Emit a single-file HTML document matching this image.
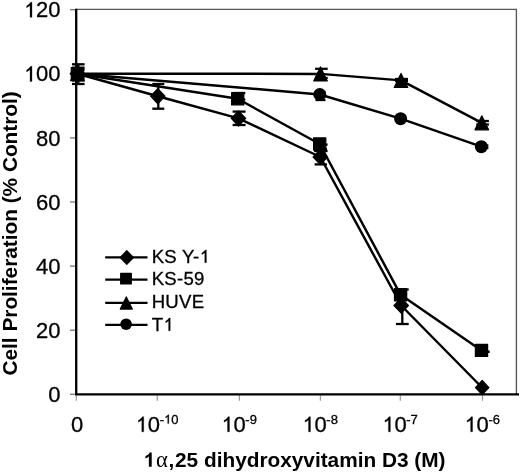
<!DOCTYPE html>
<html><head><meta charset="utf-8"><style>
html,body{margin:0;padding:0;background:#fff;}
body{width:520px;height:472px;overflow:hidden;}
svg{display:block;will-change:transform;}
text{font-family:"Liberation Sans",sans-serif;fill:#000;}
.tl{font-size:22px;stroke:#000;stroke-width:0.3px;}
.sup{font-size:13px;}
.lt{font-size:18.6px;letter-spacing:0.25px;stroke:#000;stroke-width:0.3px;}
.ti{font-size:20.8px;font-weight:bold;}
.one{fill-opacity:0;stroke:none;}
.al{font-family:"Liberation Serif",serif;font-weight:normal;font-size:22.5px;}
</style></head><body>
<svg width="520" height="472" viewBox="0 0 520 472">
<path d="M76 9.3H516.4V394" fill="none" stroke="#555" stroke-width="1.35"/>
<g stroke="#777" stroke-width="1.3"><line x1="70" y1="394.3" x2="76" y2="394.3"/><line x1="70" y1="330.2" x2="76" y2="330.2"/><line x1="70" y1="266.1" x2="76" y2="266.1"/><line x1="70" y1="202.0" x2="76" y2="202.0"/><line x1="70" y1="137.9" x2="76" y2="137.9"/><line x1="70" y1="73.8" x2="76" y2="73.8"/><line x1="70" y1="9.7" x2="76" y2="9.7"/><line x1="76.3" y1="395" x2="76.3" y2="400.8" stroke="#999" stroke-width="1.2"/><line x1="157.3" y1="395" x2="157.3" y2="400.8" stroke="#999" stroke-width="1.2"/><line x1="239.4" y1="395" x2="239.4" y2="400.8" stroke="#999" stroke-width="1.2"/><line x1="320.4" y1="395" x2="320.4" y2="400.8" stroke="#999" stroke-width="1.2"/><line x1="400.3" y1="395" x2="400.3" y2="400.8" stroke="#999" stroke-width="1.2"/><line x1="482.5" y1="395" x2="482.5" y2="400.8" stroke="#999" stroke-width="1.2"/></g>
<path d="M76.2 8.8V394.3H519" fill="none" stroke="#000" stroke-width="2.3"/>
<g stroke="#000" stroke-width="2.3"><line x1="78.3" y1="64.3" x2="78.3" y2="84.0"/><line x1="72.0" y1="64.3" x2="84.6" y2="64.3"/><line x1="72.0" y1="84.0" x2="84.6" y2="84.0"/><line x1="78.3" y1="67.7" x2="78.3" y2="80.4"/><line x1="72.0" y1="67.7" x2="84.6" y2="67.7"/><line x1="72.0" y1="80.4" x2="84.6" y2="80.4"/><line x1="78.3" y1="69.8" x2="78.3" y2="78.0"/><line x1="72.0" y1="69.8" x2="84.6" y2="69.8"/><line x1="72.0" y1="78.0" x2="84.6" y2="78.0"/><line x1="158.3" y1="84.0" x2="158.3" y2="108.7"/><line x1="152.3" y1="84.0" x2="164.3" y2="84.0"/><line x1="152.3" y1="108.7" x2="164.3" y2="108.7"/><line x1="239.1" y1="111.6" x2="239.1" y2="125.0"/><line x1="232.6" y1="111.6" x2="245.6" y2="111.6"/><line x1="232.6" y1="125.0" x2="245.6" y2="125.0"/><line x1="239.1" y1="93.0" x2="239.1" y2="99.6"/><line x1="232.9" y1="93.0" x2="245.3" y2="93.0"/><line x1="232.9" y1="99.6" x2="245.3" y2="99.6"/><line x1="321.4" y1="68.8" x2="321.4" y2="78.0"/><line x1="315.1" y1="68.8" x2="327.7" y2="68.8"/><line x1="315.1" y1="78.0" x2="327.7" y2="78.0"/><line x1="320.5" y1="92.0" x2="320.5" y2="100.0"/><line x1="315.5" y1="92.0" x2="325.5" y2="92.0"/><line x1="315.5" y1="100.0" x2="325.5" y2="100.0"/><line x1="320.8" y1="144.6" x2="320.8" y2="151.0"/><line x1="314.1" y1="144.6" x2="327.6" y2="144.6"/><line x1="314.1" y1="151.0" x2="327.6" y2="151.0"/><line x1="320.8" y1="149.0" x2="320.8" y2="164.4"/><line x1="314.6" y1="149.0" x2="327.0" y2="149.0"/><line x1="314.6" y1="164.4" x2="327.0" y2="164.4"/><line x1="402.3" y1="289.5" x2="402.3" y2="324.0"/><line x1="395.9" y1="289.5" x2="408.7" y2="289.5"/><line x1="395.9" y1="324.0" x2="408.7" y2="324.0"/><line x1="401.5" y1="79.0" x2="401.5" y2="81.0"/><line x1="395.0" y1="79.0" x2="408.0" y2="79.0"/><line x1="395.0" y1="81.0" x2="408.0" y2="81.0"/><line x1="482.6" y1="121.0" x2="482.6" y2="124.5"/><line x1="476.3" y1="121.0" x2="488.9" y2="121.0"/><line x1="476.3" y1="124.5" x2="488.9" y2="124.5"/><line x1="482.2" y1="145.5" x2="482.2" y2="148.0"/><line x1="476.0" y1="145.5" x2="488.4" y2="145.5"/><line x1="476.0" y1="148.0" x2="488.4" y2="148.0"/><line x1="482.6" y1="351.8" x2="482.6" y2="351.8"/><line x1="475.8" y1="351.8" x2="489.4" y2="351.8"/><line x1="475.8" y1="351.8" x2="489.4" y2="351.8"/></g>
<polyline points="77.4,73.7 157.8,96.2 238.5,118.4 320.3,157.0 401.2,305.5 482.0,387.5" fill="none" stroke="#000" stroke-width="2.45" stroke-linejoin="round"/>
<polyline points="77.4,73.7 237.7,98.8 319.7,144.0 400.6,294.8 481.5,350.4" fill="none" stroke="#000" stroke-width="2.45" stroke-linejoin="round"/>
<polyline points="77.4,73.7 320.5,73.9 401.0,80.4 481.8,122.8" fill="none" stroke="#000" stroke-width="2.45" stroke-linejoin="round"/>
<polyline points="77.4,73.7 319.8,94.5 400.6,118.7 481.3,146.7" fill="none" stroke="#000" stroke-width="2.45" stroke-linejoin="round"/>
<g fill="#000"><path stroke="#000" stroke-width="1.2" stroke-linejoin="round" d="M77.4 66.1L84.6 73.7L77.4 81.3L70.2 73.7Z"/><path stroke="#000" stroke-width="1.2" stroke-linejoin="round" d="M157.8 88.6L165.0 96.2L157.8 103.8L150.6 96.2Z"/><path stroke="#000" stroke-width="1.2" stroke-linejoin="round" d="M238.5 110.8L245.7 118.4L238.5 126.0L231.3 118.4Z"/><path stroke="#000" stroke-width="1.2" stroke-linejoin="round" d="M320.3 149.4L327.5 157.0L320.3 164.6L313.1 157.0Z"/><path stroke="#000" stroke-width="1.2" stroke-linejoin="round" d="M401.2 297.9L408.4 305.5L401.2 313.1L394.0 305.5Z"/><path stroke="#000" stroke-width="1.2" stroke-linejoin="round" d="M482.2 380.5L488.9 387.6L482.2 394.7L475.5 387.6Z"/><rect stroke="#000" stroke-width="1.2" stroke-linejoin="round" x="71.3" y="67.6" width="12.2" height="12.2"/><rect stroke="#000" stroke-width="1.2" stroke-linejoin="round" x="231.6" y="92.7" width="12.2" height="12.2"/><rect stroke="#000" stroke-width="1.2" stroke-linejoin="round" x="313.6" y="137.9" width="12.2" height="12.2"/><rect stroke="#000" stroke-width="1.2" stroke-linejoin="round" x="394.5" y="288.7" width="12.2" height="12.2"/><rect stroke="#000" stroke-width="1.2" stroke-linejoin="round" x="475.4" y="344.3" width="12.2" height="12.2"/><path stroke="#000" stroke-width="1.2" stroke-linejoin="round" d="M77.4 66.7L84.2 80.7L70.6 80.7Z"/><path stroke="#000" stroke-width="1.2" stroke-linejoin="round" d="M320.5 66.9L327.3 80.9L313.7 80.9Z"/><path stroke="#000" stroke-width="1.2" stroke-linejoin="round" d="M401.0 73.4L407.8 87.4L394.2 87.4Z"/><path stroke="#000" stroke-width="1.2" stroke-linejoin="round" d="M481.8 115.8L488.6 129.8L475.0 129.8Z"/><circle cx="77.4" cy="73.7" r="6.5"/><circle cx="319.8" cy="94.5" r="6.5"/><circle cx="400.6" cy="118.7" r="6.5"/><circle cx="481.3" cy="146.7" r="6.5"/></g>
<g fill="#000"><line x1="105.2" y1="257.4" x2="147.5" y2="257.4" stroke="#000" stroke-width="2.3"/><path stroke="#000" stroke-width="1.2" stroke-linejoin="round" d="M126.8 250.7L133.4 257.5L126.8 264.3L120.2 257.5Z"/><text x="151.7" y="262.7" class="lt">KS Y-<tspan class="one">1</tspan></text><line x1="105.2" y1="279.6" x2="147.5" y2="279.6" stroke="#000" stroke-width="2.3"/><rect stroke="#000" stroke-width="1.2" stroke-linejoin="round" x="120.7" y="273.3" width="10.6" height="10.6"/><text x="151.7" y="284.9" class="lt">KS-59</text><line x1="105.2" y1="302.9" x2="147.5" y2="302.9" stroke="#000" stroke-width="2.3"/><path stroke="#000" stroke-width="1.2" stroke-linejoin="round" d="M126.3 296.9L132.3 309.1L120.3 309.1Z"/><text x="151.7" y="308.2" class="lt">HUVE</text><line x1="105.2" y1="324.8" x2="147.5" y2="324.8" stroke="#000" stroke-width="2.3"/><circle cx="126.1" cy="324.2" r="5.8"/><text x="151.7" y="330.8" class="lt">T<tspan class="one">1</tspan></text></g>
<text x="60.5" y="401.9" class="tl" text-anchor="end">0</text><text x="60.5" y="337.8" class="tl" text-anchor="end">20</text><text x="60.5" y="273.7" class="tl" text-anchor="end">40</text><text x="60.5" y="209.6" class="tl" text-anchor="end">60</text><text x="60.5" y="145.5" class="tl" text-anchor="end">80</text><text x="60.5" y="81.4" class="tl" text-anchor="end"><tspan class="one">1</tspan>00</text><text x="60.5" y="17.3" class="tl" text-anchor="end"><tspan class="one">1</tspan>20</text>
<text x="77" y="431.8" class="tl" text-anchor="middle">0</text><text x="157.0" y="431.8" class="tl" text-anchor="middle"><tspan class="one">1</tspan>0<tspan class="sup" dx="-0.4" dy="-8.2">-<tspan class="one">1</tspan>0</tspan></text><text x="239.1" y="431.8" class="tl" text-anchor="middle"><tspan class="one">1</tspan>0<tspan class="sup" dx="-0.4" dy="-8.2">-9</tspan></text><text x="320.1" y="431.8" class="tl" text-anchor="middle"><tspan class="one">1</tspan>0<tspan class="sup" dx="-0.4" dy="-8.2">-8</tspan></text><text x="400.0" y="431.8" class="tl" text-anchor="middle"><tspan class="one">1</tspan>0<tspan class="sup" dx="-0.4" dy="-8.2">-7</tspan></text><text x="482.2" y="431.8" class="tl" text-anchor="middle"><tspan class="one">1</tspan>0<tspan class="sup" dx="-0.4" dy="-8.2">-6</tspan></text>
<text x="144" y="466.8" class="ti"><tspan class="one">1</tspan><tspan class="al" dx="0.3">&#945;</tspan><tspan dx="0.8">,</tspan><tspan dx="0.8">25 dihydroxyvitamin D3 (M)</tspan></text>
<text transform="translate(16.8 375.5) rotate(-90)" class="ti">Cell Proliferation (% Control)</text>
<g fill="#000"><path transform="matrix(0.00908 0 0 -0.00908 199.48 262.70)" stroke="#000" stroke-width="33.0" d="M763 0L583 0L583 1100C535 1052 480 1012 415 975C355 940 305 915 262 900L262 1068C340 1105 415 1160 482 1222C550 1285 602 1350 635 1409L763 1409Z"/><path transform="matrix(0.00908 0 0 -0.00908 163.31 330.80)" stroke="#000" stroke-width="33.0" d="M763 0L583 0L583 1100C535 1052 480 1012 415 975C355 940 305 915 262 900L262 1068C340 1105 415 1160 482 1222C550 1285 602 1350 635 1409L763 1409Z"/><path transform="matrix(0.01074 0 0 -0.01074 23.77 81.40)" stroke="#000" stroke-width="27.9" d="M763 0L583 0L583 1100C535 1052 480 1012 415 975C355 940 305 915 262 900L262 1068C340 1105 415 1160 482 1222C550 1285 602 1350 635 1409L763 1409Z"/><path transform="matrix(0.01074 0 0 -0.01074 23.77 17.30)" stroke="#000" stroke-width="27.9" d="M763 0L583 0L583 1100C535 1052 480 1012 415 975C355 940 305 915 262 900L262 1068C340 1105 415 1160 482 1222C550 1285 602 1350 635 1409L763 1409Z"/><path transform="matrix(0.01074 0 0 -0.01074 135.54 431.80)" stroke="#000" stroke-width="27.9" d="M763 0L583 0L583 1100C535 1052 480 1012 415 975C355 940 305 915 262 900L262 1068C340 1105 415 1160 482 1222C550 1285 602 1350 635 1409L763 1409Z"/><path transform="matrix(0.00635 0 0 -0.00635 163.99 423.60)" stroke="#000" stroke-width="47.3" d="M763 0L583 0L583 1100C535 1052 480 1012 415 975C355 940 305 915 262 900L262 1068C340 1105 415 1160 482 1222C550 1285 602 1350 635 1409L763 1409Z"/><path transform="matrix(0.01074 0 0 -0.01074 221.27 431.80)" stroke="#000" stroke-width="27.9" d="M763 0L583 0L583 1100C535 1052 480 1012 415 975C355 940 305 915 262 900L262 1068C340 1105 415 1160 482 1222C550 1285 602 1350 635 1409L763 1409Z"/><path transform="matrix(0.01074 0 0 -0.01074 302.27 431.80)" stroke="#000" stroke-width="27.9" d="M763 0L583 0L583 1100C535 1052 480 1012 415 975C355 940 305 915 262 900L262 1068C340 1105 415 1160 482 1222C550 1285 602 1350 635 1409L763 1409Z"/><path transform="matrix(0.01074 0 0 -0.01074 382.17 431.80)" stroke="#000" stroke-width="27.9" d="M763 0L583 0L583 1100C535 1052 480 1012 415 975C355 940 305 915 262 900L262 1068C340 1105 415 1160 482 1222C550 1285 602 1350 635 1409L763 1409Z"/><path transform="matrix(0.01074 0 0 -0.01074 464.37 431.80)" stroke="#000" stroke-width="27.9" d="M763 0L583 0L583 1100C535 1052 480 1012 415 975C355 940 305 915 262 900L262 1068C340 1105 415 1160 482 1222C550 1285 602 1350 635 1409L763 1409Z"/><path transform="matrix(0.01016 0 0 -0.01016 144.00 466.80)" stroke="#000" stroke-width="0.0" d="M759 0L478 0L478 1010C380 920 265 855 140 815L140 1060C215 1085 300 1130 385 1195C470 1260 525 1330 555 1409L759 1409Z"/></g>
</svg>
</body></html>
